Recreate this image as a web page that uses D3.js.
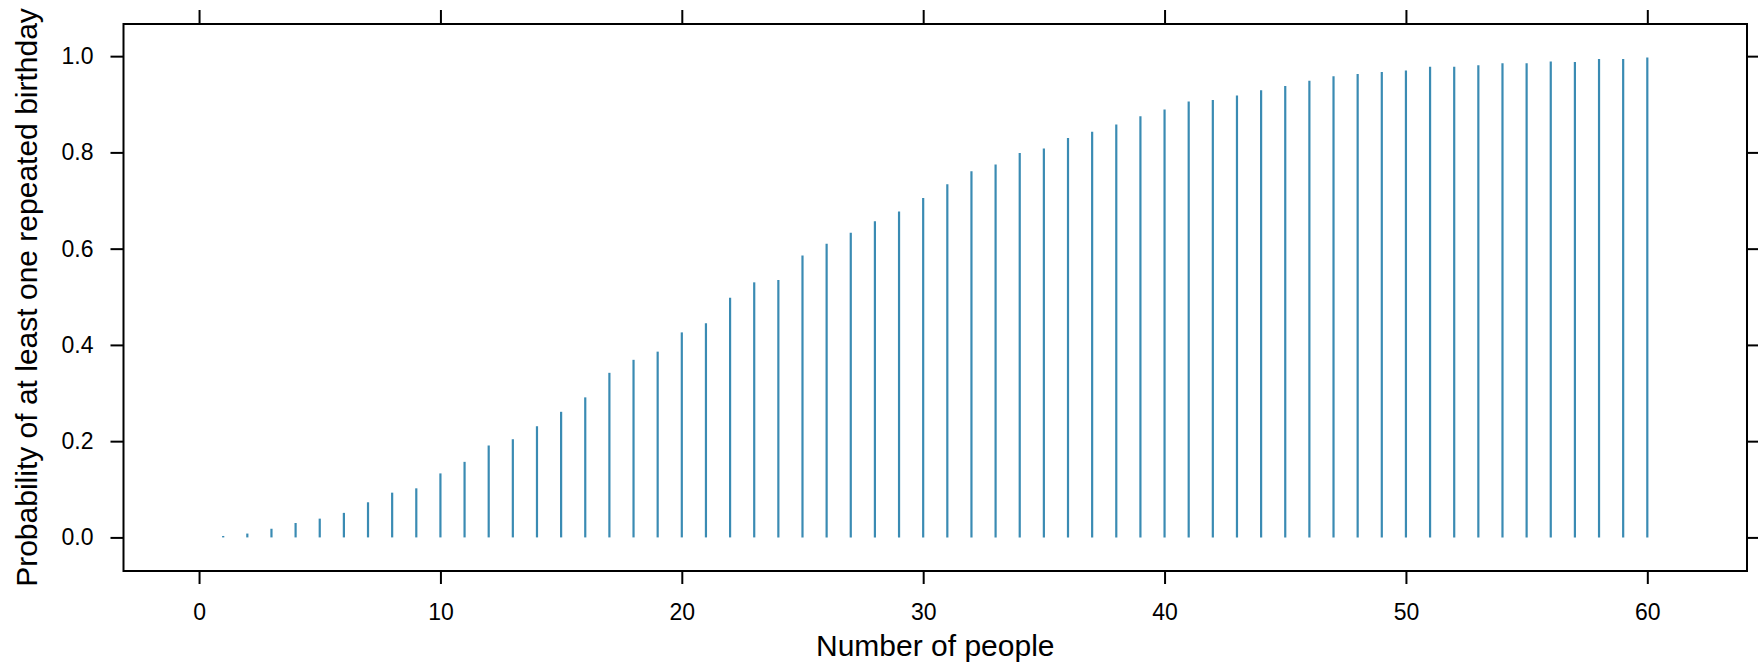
<!DOCTYPE html>
<html>
<head>
<meta charset="utf-8">
<script src="https://cdn.jsdelivr.net/npm/d3@7"></script>
<style>
  html, body { margin: 0; padding: 0; background: #ffffff; }
  svg { display: block; }
  text { font-family: "Liberation Sans", Arial, Helvetica, sans-serif; fill: #000; }
</style>
</head>
<body>
<svg id="chart" width="1758" height="665"></svg>
<script>
// ---- data ----
const people = [1,2,3,4,5,6,7,8,9,10,11,12,13,14,15,16,17,18,19,20,
                21,22,23,24,25,26,27,28,29,30,31,32,33,34,35,36,37,38,39,40,
                41,42,43,44,45,46,47,48,49,50,51,52,53,54,55,56,57,58,59,60];
const probability = [0.003,0.008,0.018,0.030,0.039,0.051,0.073,0.093,0.102,0.133,
                     0.157,0.191,0.204,0.231,0.261,0.291,0.342,0.369,0.386,0.426,
                     0.445,0.498,0.530,0.535,0.586,0.610,0.633,0.657,0.677,0.705,
                     0.734,0.761,0.775,0.799,0.808,0.830,0.843,0.858,0.875,0.889,
                     0.906,0.909,0.918,0.929,0.938,0.949,0.958,0.963,0.967,0.970,
                     0.978,0.978,0.981,0.985,0.985,0.989,0.988,0.994,0.994,0.997];
const xTicks = [0, 10, 20, 30, 40, 50, 60];
const yTicks = [0.0, 0.2, 0.4, 0.6, 0.8, 1.0];
const xTitle = "Number of people";
const yTitle = "Probability of at least one repeated birthday";

// ---- layout ----
const panel = { left: 123.5, top: 24, right: 1747, bottom: 571 };
const svg = d3.select("#chart");

const xExt = d3.extent(people);
const xPad = (xExt[1] - xExt[0]) * 0.07;
const x = d3.scaleLinear()
  .domain([xExt[0] - xPad, xExt[1] + xPad])
  .range([panel.left, panel.right]);

const yExt = [0, d3.max(probability)];
const yPad = (yExt[1] - yExt[0]) * 0.07;
const y = d3.scaleLinear()
  .domain([yExt[0] - yPad, yExt[1] + yPad])
  .range([panel.bottom, panel.top]);

const data = people.map((p, i) => ({ n: p, v: probability[i] }));

// ---- spikes (type = "h") ----
svg.append("g")
  .selectAll("line")
  .data(data)
  .join("line")
  .attr("x1", d => x(d.n))
  .attr("x2", d => x(d.n))
  .attr("y1", y(0))
  .attr("y2", d => y(d.v))
  .attr("stroke", "#3a8bb3")
  .attr("stroke-width", 2.2);

// ---- axes ----
const tickFont = 23;
const bottomAxis = d3.axisBottom(x).tickValues(xTicks).tickSize(13).tickPadding(20)
  .tickFormat(d3.format("d"));
const topAxis = d3.axisTop(x).tickValues(xTicks).tickSize(14).tickFormat("");
const leftAxis = d3.axisLeft(y).tickValues(yTicks).tickSize(13).tickPadding(17)
  .tickFormat(d3.format(".1f"));
const rightAxis = d3.axisRight(y).tickValues(yTicks).tickSize(13).tickFormat("");

function styleAxis(g) {
  g.select(".domain").remove();
  g.selectAll(".tick line").attr("stroke", "#000").attr("stroke-width", 2);
  g.selectAll(".tick text")
    .attr("fill", "#000")
    .style("font-family", '"Liberation Sans", Arial, sans-serif')
    .style("font-size", tickFont + "px");
}

svg.append("g").attr("transform", `translate(0,${panel.bottom})`).call(bottomAxis).call(styleAxis);
svg.append("g").attr("transform", `translate(0,${panel.top})`).call(topAxis).call(styleAxis);
svg.append("g").attr("transform", `translate(${panel.left},0)`).call(leftAxis).call(styleAxis);
svg.append("g").attr("transform", `translate(${panel.right},0)`).call(rightAxis).call(styleAxis);

// ---- panel box ----
svg.append("rect")
  .attr("x", panel.left)
  .attr("y", panel.top)
  .attr("width", panel.right - panel.left)
  .attr("height", panel.bottom - panel.top)
  .attr("fill", "none")
  .attr("stroke", "#000")
  .attr("stroke-width", 2);

// ---- titles ----
svg.append("text")
  .attr("x", (panel.left + panel.right) / 2)
  .attr("y", 656)
  .attr("text-anchor", "middle")
  .style("font-size", "30px")
  .text(xTitle);

svg.append("text")
  .attr("transform", `translate(37,${(panel.top + panel.bottom) / 2}) rotate(-90)`)
  .attr("text-anchor", "middle")
  .style("font-size", "30px")
  .text(yTitle);
</script>
</body>
</html>
